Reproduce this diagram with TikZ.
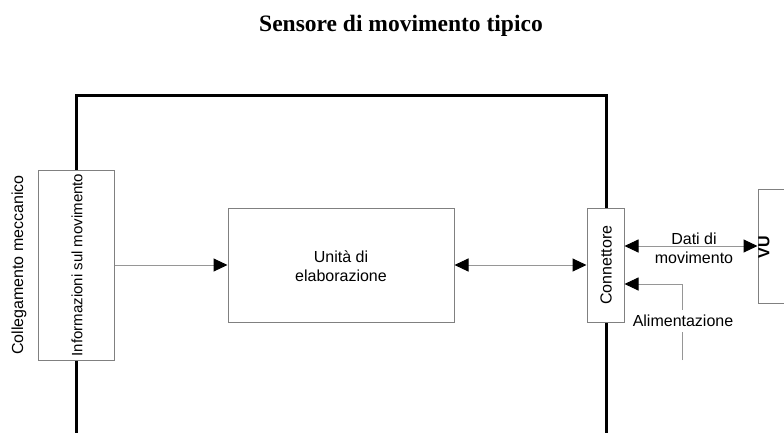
\documentclass[tikz,border=0pt]{standalone}
\usepackage{fontspec}
\setmainfont{Liberation Sans}
\newfontfamily\titlefont{Liberation Serif}
\usetikzlibrary{arrows.meta}
\definecolor{boxgray}{RGB}{128,128,128}
\definecolor{linegray}{RGB}{150,150,150}
\begin{document}
\begin{tikzpicture}[x=1pt,y=-1pt,
  box/.style={draw=boxgray, fill=white, line width=1pt, inner sep=0pt, rectangle},
  conn/.style={draw=linegray, line width=1pt},
  tip/.style={-{Triangle[length=14pt,width=13pt,black]}},
  dtip/.style={{Triangle[length=14pt,width=13pt,black]}-{Triangle[length=14pt,width=13pt,black]}},
  lbl/.style={font=\fontsize{16}{19}\selectfont, align=center, inner sep=0pt},
  frame/.style={line width=3pt, draw=black}]
\useasboundingbox (0,0) rectangle (784,432);
% title
\node[font=\titlefont\bfseries\fontsize{23.5}{27}\selectfont, inner sep=0pt] (title) at (401,26) {Sensore di movimento tipico};
% housing frame
\coordinate (fbl) at (76,434);
\coordinate (ftl) at (76,95);
\coordinate (ftr) at (606,95);
\coordinate (fbr) at (606,434);
\draw[frame] (fbl) -- (ftl) -- (ftr) -- (fbr);
% boxes
\node[box, minimum width=76pt, minimum height=190pt] (info) at (76,265) {};
\node[box, minimum width=226pt, minimum height=114pt] (unit) at (341,265) {};
\node[box, minimum width=37pt, minimum height=114pt] (conn) at (605.5,265) {};
\node[box, minimum width=60pt, minimum height=114pt] (vu) at (788,246) {};
% texts
\node[lbl, rotate=90] (coll) at (19,265) {Collegamento meccanico};
\node[lbl, font=\fontsize{15}{18}\selectfont, rotate=90] (infotxt) at (77,265) {Informazioni sul movimento};
\node[lbl] (unittxt) at (341,266) {Unità di\\elaborazione};
\node[lbl, rotate=90] (conntxt) at (606,265) {Connettore};
\node[lbl, font=\bfseries\fontsize{16}{19}\selectfont, rotate=90] (vutxt) at (764,247) {VU};
% connectors
\draw[conn, tip] (info.east) -- (unit.west);
\draw[conn, dtip] (unit.east) -- (conn.west);
\draw[conn, dtip] (conn.east |- vu.west) -- (vu.west);
\node[lbl] (dati) at (694,248) {Dati di\\movimento};
\coordinate (pwrin) at (682,360);
\coordinate (pwrbend) at (682,284);
\draw[conn, tip] (pwrin) -- (pwrbend) -- (conn.east |- pwrbend);
\node[lbl, fill=white, inner ysep=5pt, inner xsep=1pt] (alim) at (683,321) {Alimentazione};
\end{tikzpicture}
\end{document}
